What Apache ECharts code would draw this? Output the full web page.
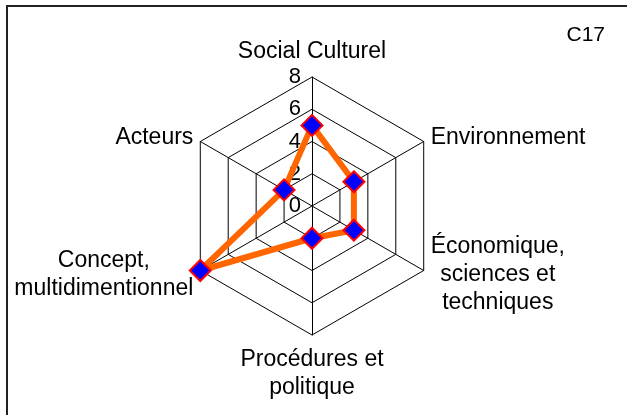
<!DOCTYPE html>
<html>
<head>
<meta charset="utf-8">
<script src="https://cdn.jsdelivr.net/npm/echarts@6/dist/echarts.min.js"></script>
<style>
  html, body { margin: 0; padding: 0; background: #fff; }
  #radar { width: 627px; height: 415px; }
</style>
</head>
<body>
<div id="radar"></div>
<script>
// axes, counter-clockwise from the top (echarts order)
var axes = [
    'Social Culturel',
    'Acteurs',
    'Concept,\nmultidimentionnel',
    'Procédures et\npolitique',
    'Économique,\nsciences et\ntechniques',
    'Environnement'
];
var values = [5, 2, 8, 2, 3, 3];
var axisMax = 8;
var tickLabels = ['0', '2', '4', '6', '8'];

var font = 'Liberation Sans, Arial, sans-serif';

// name placement per axis (top, left, left, bottom, right, right)
var nameAlign = [
    { verticalAlign: 'bottom', align: 'center' },
    { verticalAlign: 'middle', align: 'right' },
    { verticalAlign: 'middle', align: 'right' },
    { verticalAlign: 'top', align: 'center' },
    { verticalAlign: 'middle', align: 'left' },
    { verticalAlign: 'middle', align: 'left' }
];
var nameGaps = [9, 8, 8, 11, 8, 8];

var indicator = [];
for (var i in axes) {
    indicator.push({
        name: axes[i],
        min: 0,
        max: axisMax,
        nameGap: nameGaps[i],
        nameTextStyle: nameAlign[i],
        axisLabel: { show: i == 0 }
    });
}

var myChart = echarts.init(document.getElementById('radar'));

var option = {
    animation: false,
    backgroundColor: '#fff',
    textStyle: { fontFamily: font },
    title: {
        text: 'C17',
        right: 22,
        top: 25,
        padding: 0,
        textStyle: { fontFamily: font, fontSize: 21, fontWeight: 'normal', color: '#000' }
    },
    graphic: [{
        type: 'rect',
        shape: { x: 7, y: 6, width: 700, height: 500 },
        style: { fill: 'none', stroke: '#222', lineWidth: 2 },
        silent: true
    }],
    radar: {
        center: [312, 206],
        radius: 129,
        startAngle: 90,
        splitNumber: 4,
        shape: 'polygon',
        nameGap: 9,
        indicator: indicator,
        axisName: {
            color: '#000',
            fontFamily: font,
            fontSize: 23,
            lineHeight: 28,
            formatter: function (name) {
                return name.split('\n').map(function (s) {
                    return '{c|' + s + '}';
                }).join('\n');
            },
            rich: {
                c: { align: 'center', fontFamily: font, fontSize: 23, lineHeight: 28, color: '#000' }
            }
        },
        axisLine: { lineStyle: { color: '#000', width: 1 } },
        splitLine: { lineStyle: { color: '#000', width: 1 } },
        splitArea: { show: false },
        axisTick: { show: false },
        axisLabel: {
            show: true,
            color: '#000',
            fontFamily: font,
            fontSize: 22,
            margin: 11,
            formatter: function (v) {
                return tickLabels[v / 2];
            }
        }
    },
    series: [{
        type: 'radar',
        symbol: 'diamond',
        symbolSize: 21,
        lineStyle: { color: '#ff6600', width: 6 },
        itemStyle: { color: '#0000ff', borderColor: '#ff0000', borderWidth: 2 },
        data: [{ value: values, name: 'C17' }]
    }]
};

myChart.setOption(option);
</script>
</body>
</html>
